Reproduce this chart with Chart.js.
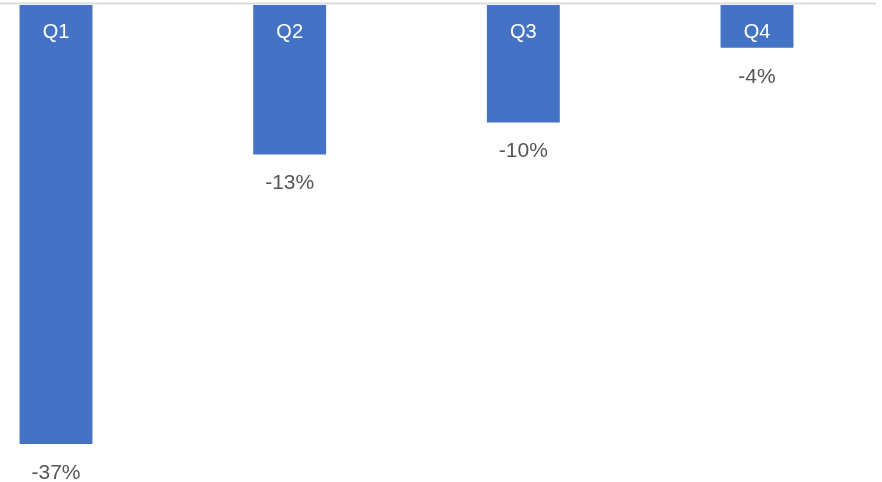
<!DOCTYPE html>
<html>
<head>
<meta charset="utf-8">
<script src="https://cdn.jsdelivr.net/npm/chart.js@4/dist/chart.umd.min.js"></script>
<style>
    html, body { margin: 0; padding: 0; background: #fff; }
    #wrap { width: 882px; height: 482px; }
</style>
</head>
<body>
<div id="wrap"><canvas id="quarters"></canvas></div>
<script>
const quarters = ["Q1", "Q2", "Q3", "Q4"];
const changes = [-37, -12.6, -9.9, -3.6];
const changeLabels = ["-37%", "-13%", "-10%", "-4%"];

// draws the baseline, quarter names inside the bars and the values under them
const barText = {
    id: "barText",
    afterDatasetsDraw(chart) {
        let ctx = chart.ctx;
        let y0 = chart.scales.y.getPixelForValue(0);
        ctx.save();
        ctx.strokeStyle = "#dcdcdc";
        ctx.lineWidth = 2;
        ctx.beginPath();
        ctx.moveTo(0, y0 - 1.5);
        ctx.lineTo(876, y0 - 1.5);
        ctx.stroke();

        ctx.textAlign = "center";
        ctx.textBaseline = "middle";
        chart.getDatasetMeta(0).data.forEach((bar, i) => {
            ctx.font = "20px 'Liberation Sans', Arial, sans-serif";
            ctx.fillStyle = "#ffffff";
            ctx.fillText(quarters[i], bar.x, y0 + 27);
            ctx.font = "21px 'Liberation Sans', Arial, sans-serif";
            ctx.fillStyle = "#555555";
            ctx.fillText(changeLabels[i], bar.x, bar.y + 29);
        });
        ctx.restore();
    }
};

window.onload = ()=> {
    new Chart("quarters", {
        type: "bar",
        data: {
            labels: quarters,
            datasets: [{
                data: changes,
                backgroundColor: "#4472c4",
                categoryPercentage: 1,
                barPercentage: 0.312,
                clip: false
            }]
        },
        options: {
            responsive: true,
            maintainAspectRatio: false,
            animation: false,
            layout: { padding: { left: 56, right: 125, top: 5, bottom: 38 } },
            plugins: {
                legend: { display: false },
                tooltip: { enabled: false }
            },
            scales: {
                x: { display: false, offset: false },
                y: { display: false, min: -37, max: 0 }
            }
        },
        plugins: [barText]
    });
};
</script>
</body>
</html>
